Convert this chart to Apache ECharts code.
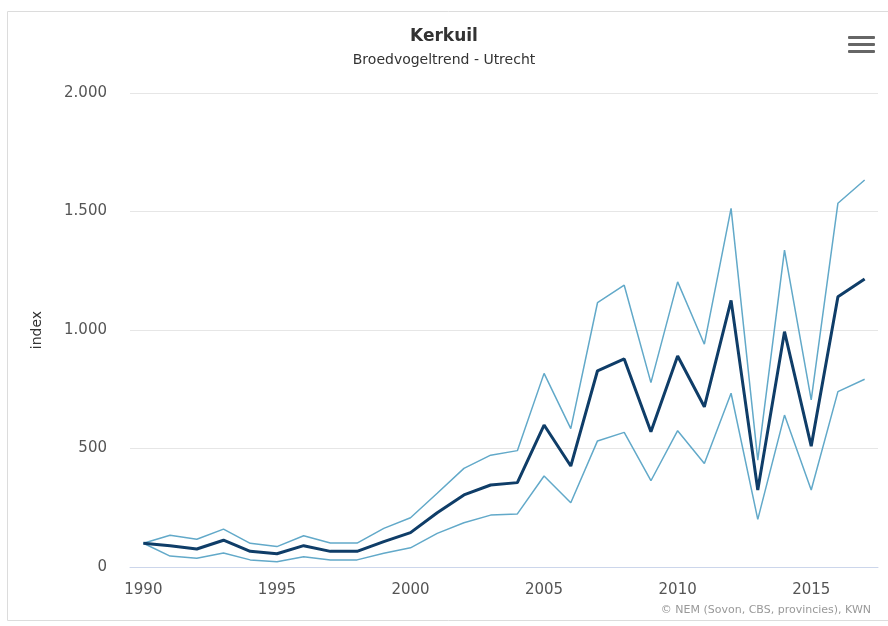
<!DOCTYPE html>
<html>
<head>
<meta charset="utf-8">
<script src="https://cdn.jsdelivr.net/npm/echarts@6/dist/echarts.min.js"></script>
<style>
  html, body { margin: 0; padding: 0; background: #fff; }
  #chart { width: 888px; height: 626px; }
</style>
</head>
<body>
<div id="chart"></div>
<script>
// jaren
const years = ['1990', '1991', '1992', '1993', '1994', '1995', '1996', '1997', '1998', '1999',
  '2000', '2001', '2002', '2003', '2004', '2005', '2006', '2007', '2008', '2009',
  '2010', '2011', '2012', '2013', '2014', '2015', '2016', '2017']
// index (1990 = 100)
const trend = [100, 90, 76, 113, 66, 56, 90, 66, 66, 107,
  145, 229, 304, 346, 356, 599, 426, 828, 878, 571,
  890, 676, 1125, 325, 993, 510, 1140, 1215]
const upper = [100, 134, 117, 160, 100, 86, 132, 101, 101, 163,
  208, 311, 416, 472, 491, 817, 584, 1115, 1189, 778,
  1203, 940, 1513, 451, 1337, 705, 1535, 1633]
const lower = [100, 46, 37, 59, 30, 22, 43, 30, 30, 58,
  81, 142, 187, 219, 224, 384, 271, 532, 568, 364,
  575, 437, 733, 201, 641, 325, 740, 792]
const yTicks = [0, 500, 1000, 1500, 2000]

const font = 'DejaVu Sans'
const chart = echarts.init(document.getElementById('chart'))

const everyFifth = (i) => i % 5 === 0

chart.setOption({
  animation: false,
  textStyle: { fontFamily: font },
  title: {
    text: 'Kerkuil',
    subtext: 'Broedvogeltrend - Utrecht',
    left: 'center',
    top: 28,
    padding: [0, 0, 0, 14],
    itemGap: 8,
    textStyle: { fontSize: 17, fontWeight: 'bold', color: '#333', fontFamily: font },
    subtextStyle: { fontSize: 14, color: '#333', fontFamily: font }
  },
  grid: { left: 130, right: 10, top: 93, bottom: 59 },
  xAxis: {
    type: 'category',
    data: years,
    boundaryGap: true,
    axisLine: { lineStyle: { color: '#ccd6eb', width: 1 } },
    axisTick: {
      alignWithLabel: true,
      interval: everyFifth,
      length: 10,
      lineStyle: { color: '#ccd6eb' }
    },
    axisLabel: {
      interval: everyFifth,
      margin: 16,
      fontSize: 15,
      color: '#555',
      fontFamily: font
    }
  },
  yAxis: {
    type: 'value',
    min: yTicks[0],
    max: yTicks[yTicks.length - 1],
    interval: 500,
    name: 'index',
    nameLocation: 'middle',
    nameRotate: 90,
    nameGap: 86,
    nameTextStyle: { fontSize: 14, color: '#333', fontFamily: font },
    axisLine: { show: false },
    axisTick: { show: false },
    splitLine: { lineStyle: { color: '#e6e6e6', width: 1 } },
    axisLabel: {
      margin: 23,
      fontSize: 15,
      color: '#555',
      fontFamily: font,
      formatter: (v) => String(v).replace(/\B(?=(\d{3})+(?!\d))/g, '.')
    }
  },
  series: [
    {
      name: 'bovengrens',
      type: 'line',
      data: upper,
      symbol: 'none',
      lineStyle: { color: '#62a9c9', width: 1.5 }
    },
    {
      name: 'ondergrens',
      type: 'line',
      data: lower,
      symbol: 'none',
      lineStyle: { color: '#62a9c9', width: 1.5 }
    },
    {
      name: 'trend',
      type: 'line',
      data: trend,
      symbol: 'none',
      lineStyle: { color: '#0f3d68', width: 3 }
    }
  ],
  graphic: [
    // kader
    {
      type: 'rect',
      shape: { x: 7.5, y: 11.5, width: 900, height: 609 },
      style: { fill: 'none', stroke: '#dcdcdc', lineWidth: 1 },
      silent: true
    },
    // menu-icoon
    { type: 'rect', shape: { x: 848, y: 36, width: 27, height: 3, r: 1 }, style: { fill: '#666' } },
    { type: 'rect', shape: { x: 848, y: 43, width: 27, height: 3, r: 1 }, style: { fill: '#666' } },
    { type: 'rect', shape: { x: 848, y: 50, width: 27, height: 3, r: 1 }, style: { fill: '#666' } },
    // bron
    {
      type: 'text',
      x: 871,
      y: 610,
      style: {
        text: '© NEM (Sovon, CBS, provincies), KWN',
        align: 'right',
        verticalAlign: 'middle',
        fontSize: 11,
        fontFamily: font,
        fill: '#999'
      }
    }
  ]
})
</script>
</body>
</html>
